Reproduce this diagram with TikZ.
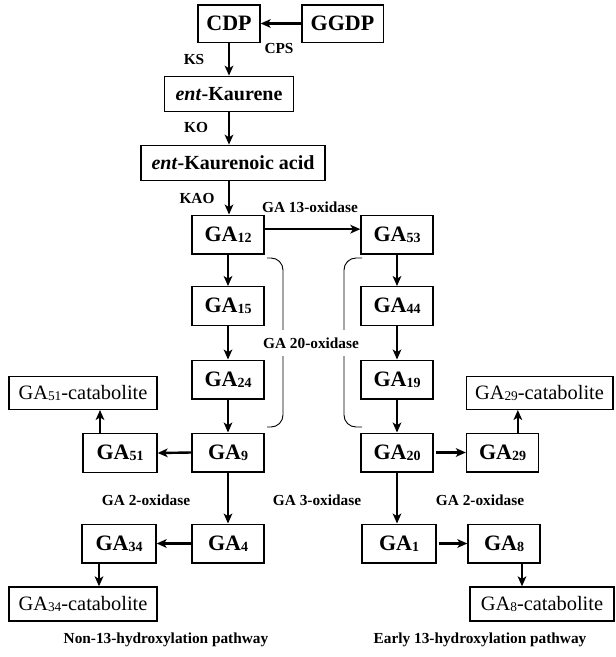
\documentclass[tikz,border=0pt]{standalone}
\usepackage{fontspec}
\setmainfont{Liberation Serif}
\usetikzlibrary{arrows.meta}

\newcommand{\ga}[1]{GA{\fontsize{10.5}{12}\selectfont\raisebox{-0.6pt}{#1}}}
\newcommand{\gacat}[1]{GA{\fontsize{10}{12}\selectfont\raisebox{-0.6pt}{#1}}-catabolite}

\begin{document}
\begin{tikzpicture}[x=0.75pt, y=-0.75pt,
		box/.style={draw, line width=1pt, inner sep=0pt, minimum height=28pt,
			font=\fontsize{16.5}{18}\selectfont\bfseries},
		gabox/.style={box, minimum width=54pt, minimum height=29pt},
		catbox/.style={draw, line width=1pt, inner sep=0pt, minimum width=111pt,
			minimum height=24.5pt, font=\fontsize{15.3}{17}\selectfont},
		lbl/.style={font=\fontsize{11.5}{13}\selectfont\bfseries},
		arr/.style={line width=1.8pt, -{Stealth[length=7.5pt, width=6.5pt, inset=2pt]}},
		brace/.style={line width=0.7pt, rounded corners=9pt}]
		\useasboundingbox (0,0) rectangle (615,657);

		% top of the pathway
		\node[box, minimum width=46.5pt] (cdp) at (229,23.5) {CDP};
		\node[box, minimum width=61pt] (ggdp) at (342.5,23.5) {GGDP};
		\node[box, minimum width=97pt, minimum height=26.5pt, font=\fontsize{15}{17}\selectfont\bfseries] (kaur) at (229,94) {\textit{ent}-Kaurene};
		\node[box, minimum width=138pt, minimum height=26.5pt, font=\fontsize{15}{17}\selectfont\bfseries] (acid) at (233,163) {\textit{ent}-Kaurenoic acid};

		% non-13-hydroxylation pathway
		\node[gabox] (ga12) at (228,234.5) {\ga{12}};
		\node[gabox] (ga15) at (228,306) {\ga{15}};
		\node[gabox] (ga24) at (228,379.5) {\ga{24}};
		\node[gabox] (ga9) at (228,452.5) {\ga{9}};
		\node[gabox] (ga4) at (228,543.5) {\ga{4}};
		\node[gabox, minimum width=55.5pt] (ga51) at (120,453) {\ga{51}};
		\node[gabox, minimum width=55.5pt] (ga34) at (119,543.5) {\ga{34}};
		\node[catbox] (cat51) at (83,393) {\gacat{51}};
		\node[catbox, minimum height=25.5pt] (cat34) at (83,604) {\gacat{34}};

		% early 13-hydroxylation pathway
		\node[gabox] (ga53) at (397,234.5) {\ga{53}};
		\node[gabox] (ga44) at (397,306) {\ga{44}};
		\node[gabox] (ga19) at (397,379.5) {\ga{19}};
		\node[gabox] (ga20) at (397,452.5) {\ga{20}};
		\node[gabox, minimum width=55.5pt] (ga1) at (399,543.5) {\ga{1}};
		\node[gabox] (ga29) at (502.5,452.5) {\ga{29}};
		\node[gabox] (ga8) at (504,543.5) {\ga{8}};
		\node[catbox, minimum width=110pt] (cat29) at (539.5,393) {\gacat{29}};
		\node[catbox, minimum width=108pt, minimum height=25.5pt] (cat8) at (542,604) {\gacat{8}};

		% arrows
		\draw[arr] (ggdp.west) -- (cdp.east);
		\draw[arr] (cdp.south) -- (cdp.south |- kaur.north);
		\draw[arr] (cdp.south |- kaur.south) -- (cdp.south |- acid.north);
		\draw[arr] (cdp.south |- acid.south) -- (cdp.south |- ga12.north);
		\draw[arr] ([yshift=4pt]ga12.east) -- ([yshift=4pt]ga53.west);
		\foreach \a/\b in {ga12/ga15, ga15/ga24, ga24/ga9, ga9/ga4,
			ga53/ga44, ga44/ga19, ga19/ga20, ga20/ga1}
			\draw[arr] (\a.south) -- (\a.south |- \b.north);
		\draw[arr] (ga9.west) -- (ga51.east);
		\draw[arr] (ga4.west) -- (ga34.east);
		\draw[arr] ([xshift=2pt]ga20.east) -- (ga29.west);
		\draw[arr] ([xshift=2pt]ga1.east) -- (ga8.west);
		\draw[arr] ([xshift=-15pt]ga51.north) -- ([xshift=-15pt]ga51.north |- cat51.south);
		\draw[arr] ([xshift=11.5pt]ga29.north) -- ([xshift=11.5pt]ga29.north |- cat29.south);
		\draw[arr] ([xshift=-15pt]ga34.south) -- ([xshift=-15pt]ga34.south |- cat34.north);
		\draw[arr] ([xshift=13.5pt]ga8.south) -- ([xshift=13.5pt]ga8.south |- cat8.north);

		% GA 20-oxidase brackets
		\draw[brace] (267,258) -- (283,258) -- (283,427) -- (267,427);
		\draw[brace] (362,258) -- (344,258) -- (344,427) -- (362,427);

		% enzyme labels
		\node[lbl] (ks) at (194,59) {KS};
		\node[lbl] (cps) at (279,48) {CPS};
		\node[lbl] (ko) at (196,127) {KO};
		\node[lbl] (kao) at (197,198) {KAO};
		\node[lbl] (ox13) at (310,207) {GA 13-oxidase};
		\node[lbl, fill=white, inner ysep=5.5pt, inner xsep=1pt] (ox20) at (311,343) {GA 20-oxidase};
		\node[lbl] (ox2a) at (146,500) {GA 2-oxidase};
		\node[lbl] (ox3) at (317,500) {GA 3-oxidase};
		\node[lbl] (ox2b) at (480,500) {GA 2-oxidase};
		\node[lbl] (path1) at (166,640) {Non-13-hydroxylation pathway};
		\node[lbl] (path2) at (480,640) {Early 13-hydroxylation pathway};
	\end{tikzpicture}
\end{document}
